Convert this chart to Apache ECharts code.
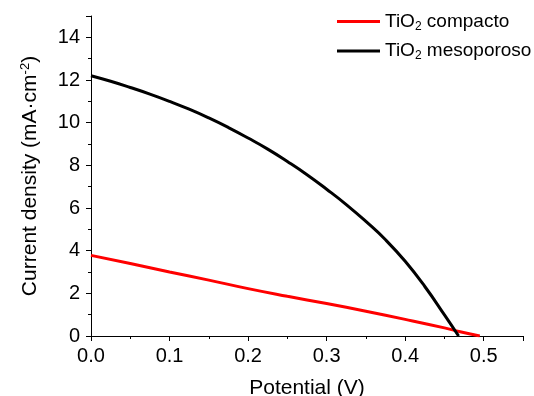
<!DOCTYPE html>
<html>
<head>
<meta charset="utf-8">
<script src="https://cdn.jsdelivr.net/npm/echarts@6/dist/echarts.min.js"></script>
<style>
  html, body { margin: 0; padding: 0; background: #fff; }
  #chart { width: 534px; height: 396px; }
</style>
</head>
<body>
<div id="chart"></div>
<script>
// potential (V) vs current density
var compactoX = [0, 0.05, 0.1, 0.15, 0.2, 0.25, 0.3, 0.35, 0.4, 0.45, 0.47, 0.495];
var compactoY = [3.78, 3.4, 3.0, 2.62, 2.22, 1.86, 1.52, 1.16, 0.78, 0.38, 0.2, 0];

var mesoX = [0, 0.025, 0.05, 0.075, 0.1, 0.125, 0.15, 0.175, 0.2, 0.225, 0.25, 0.275, 0.3, 0.325, 0.35, 0.375, 0.4, 0.425, 0.45, 0.468];
var mesoY = [12.2, 11.94, 11.65, 11.34, 11.0, 10.63, 10.22, 9.77, 9.28, 8.76, 8.18, 7.56, 6.88, 6.16, 5.37, 4.51, 3.5, 2.32, 0.99, 0];

var xTickLabels = ['0.0', '0.1', '0.2', '0.3', '0.4', '0.5'];
var yTickLabels = ['0', '2', '4', '6', '8', '10', '12', '14'];

function pairs(xs, ys) {
  return xs.map(function (x, i) { return [x, ys[i]]; });
}

var font = 'Arial, "Liberation Sans", sans-serif';
var chart = echarts.init(document.getElementById('chart'));
chart.setOption({
  animation: false,
  grid: { left: 91, right: 11, top: 16, bottom: 60, containLabel: false, outerBoundsMode: 'none' },
  legend: {
    orient: 'vertical',
    left: 332,
    top: 7,
    itemWidth: 43,
    itemHeight: 3,
    itemGap: 9,
    icon: 'rect',
    data: ['compacto', 'meso'],
    formatter: function (name) {
      return name === 'compacto'
        ? '{t|TiO}{s|2}{t| compacto}'
        : '{t|TiO}{s|2}{t| mesoporoso}';
    },
    textStyle: {
      color: '#000',
      rich: {
        t: { fontSize: 19, fontFamily: font, color: '#000' },
        s: { fontSize: 12, fontFamily: font, color: '#000', padding: [10, 0, 0, 0] }
      }
    }
  },
  xAxis: {
    type: 'value',
    min: 0,
    max: 0.55,
    interval: 0.1,
    name: 'Potential (V)',
    nameLocation: 'middle',
    nameGap: 42,
    nameTextStyle: { fontSize: 21, fontFamily: font, color: '#000' },
    axisLine: { lineStyle: { color: '#000', width: 1 } },
    axisTick: { inside: false, length: 5, lineStyle: { color: '#000' } },
    minorTick: { show: true, splitNumber: 2, length: 3, lineStyle: { color: '#000' } },
    axisLabel: {
      fontSize: 20, fontFamily: font, color: '#000', margin: 10,
      formatter: function (v) {
        var i = Math.round(v * 10);
        return Math.abs(v * 10 - i) < 1e-6 && xTickLabels[i] ? xTickLabels[i] : '';
      }
    },
    splitLine: { show: false }
  },
  yAxis: {
    type: 'value',
    min: 0,
    max: 15,
    interval: 2,
    name: '{t|Current density (mA·cm}{s|-2}{t|)}',
    nameLocation: 'middle',
    nameGap: 49,
    nameTextStyle: {
      color: '#000',
      rich: {
        t: { fontSize: 21, fontFamily: font, color: '#000' },
        s: { fontSize: 13, fontFamily: font, color: '#000', padding: [0, 0, 10, 0] }
      }
    },
    axisLine: { show: true, lineStyle: { color: '#000', width: 1 } },
    axisTick: { show: true, inside: false, length: 5, lineStyle: { color: '#000' } },
    minorTick: { show: true, splitNumber: 2, length: 3, lineStyle: { color: '#000' } },
    axisLabel: {
      fontSize: 20, fontFamily: font, color: '#000', margin: 11,
      formatter: function (v) {
        var i = Math.round(v / 2);
        return Math.abs(v / 2 - i) < 1e-6 && yTickLabels[i] ? yTickLabels[i] : '';
      }
    },
    splitLine: { show: false }
  },
  series: [
    {
      name: 'compacto',
      type: 'line',
      smooth: true,
      showSymbol: false,
      lineStyle: { color: '#ff0000', width: 3 },
      itemStyle: { color: '#ff0000' },
      data: pairs(compactoX, compactoY)
    },
    {
      name: 'meso',
      type: 'line',
      smooth: true,
      showSymbol: false,
      lineStyle: { color: '#000000', width: 3 },
      itemStyle: { color: '#000000' },
      data: pairs(mesoX, mesoY)
    }
  ]
});
</script>
</body>
</html>
